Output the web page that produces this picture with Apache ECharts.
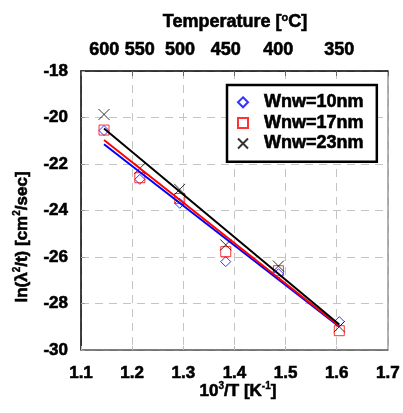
<!DOCTYPE html>
<html>
<head>
<meta charset="utf-8">
<script src="https://cdn.jsdelivr.net/npm/echarts@6/dist/echarts.min.js"></script>
<style>
  html, body { margin: 0; padding: 0; background: #fff; }
  #chart { width: 403px; height: 413px; }
</style>
</head>
<body>
<div id="chart"></div>
<script>
// measured points, x = 1000/T [1/K]
const invT = [1.145, 1.215, 1.293, 1.383, 1.486, 1.605];
const w10 = [-20.56, -22.66, -23.69, -26.2, -26.72, -28.78];
const w17 = [-20.54, -22.59, -23.48, -25.77, -26.59, -29.17];
const w23 = [-19.87, -22.19, -23.09, -25.48, -26.39, -29.0];

// fitted lines, read as end points
const fitX = [1.145, 1.605];
const fit10 = [-21.15, -29.0];
const fit17 = [-20.97, -28.97];
const fit23 = [-20.47, -28.9];

const topTemps = [600, 550, 500, 450, 400, 350];
const topPos = topTemps.map((t) => 1000 / (t + 273.15));

const FONT = "Liberation Sans";
const pair = (xs, ys) => xs.map((x, i) => [x, ys[i]]);
const crossPath = "path://M0,0L10,10M10,0L0,10";
// heavier look, like the original's bold Arial
const heavy = { fontWeight: "bold", fontFamily: FONT, textBorderColor: "#000", textBorderWidth: 0.6 };

const chart = echarts.init(document.getElementById("chart"), null, { renderer: "canvas" });

chart.setOption({
  animation: false,
  textStyle: { fontFamily: FONT },
  grid: { left: 81, right: 14, top: 71, bottom: 63 },
  xAxis: [
    {
      type: "value",
      position: "bottom",
      min: 1.1,
      max: 1.7,
      interval: 0.1,
      axisLine: { onZero: false, lineStyle: { color: "#555", width: 1.5 } },
      axisTick: { inside: true, length: 4, lineStyle: { color: "#bbb" } },
      axisLabel: Object.assign({ margin: 15, color: "#000", fontSize: 17, formatter: (v) => v.toFixed(1) }, heavy),
      splitLine: { show: true, lineStyle: { color: "#c4c4c4", type: [8, 6], width: 1 } },
    },
    {
      type: "value",
      position: "top",
      min: 1.1,
      max: 1.7,
      interval: 0.1,
      axisLine: { onZero: false, lineStyle: { color: "#000", width: 1.5 } },
      axisTick: { inside: true, length: 5, lineStyle: { color: "#666" } },
      axisLabel: Object.assign({
        margin: 12,
        color: "#000",
        fontSize: 18,
        customValues: topPos,
        formatter: (v) => {
          let best = 0;
          topPos.forEach((p, i) => { if (Math.abs(p - v) < Math.abs(topPos[best] - v)) best = i; });
          return String(topTemps[best]);
        },
      }, heavy),
      splitLine: { show: false },
    },
  ],
  yAxis: [
    {
      type: "value",
      position: "left",
      min: -30,
      max: -18,
      interval: 2,
      axisLine: { show: true, onZero: false, lineStyle: { color: "#000", width: 1.5 } },
      axisTick: { show: true, inside: true, length: 4, lineStyle: { color: "#999" } },
      axisLabel: Object.assign({ margin: 13, color: "#000", fontSize: 17 }, heavy),
      splitLine: { show: true, lineStyle: { color: "#c4c4c4", type: [8, 6], width: 1 } },
    },
    {
      type: "value",
      position: "right",
      min: -30,
      max: -18,
      interval: 2,
      axisLine: { show: true, onZero: false, lineStyle: { color: "#999", width: 1.5 } },
      axisTick: { show: false },
      axisLabel: { show: false },
      splitLine: { show: false },
    },
  ],
  legend: {
    orient: "vertical",
    left: 227,
    top: 85,
    padding: [8, 13, 9, 10],
    itemWidth: 10,
    itemHeight: 10,
    itemGap: 2,
    backgroundColor: "#fff",
    borderColor: "#000",
    borderWidth: 2.5,
    borderRadius: 0,
    textStyle: Object.assign({
      fontSize: 18,
      color: "#000",
      lineHeight: 18,
      padding: [0, 0, 0, 11],
    }, heavy),
    data: ["Wnw=10nm", "Wnw=17nm", "Wnw=23nm"],
  },
  series: [
    {
      name: "Wnw=10nm",
      type: "scatter",
      symbol: "diamond",
      symbolSize: 10,
      itemStyle: { color: "rgba(0,0,0,0)", borderColor: "#0000ff", borderWidth: 1 },
      data: pair(invT, w10),
    },
    {
      name: "Wnw=17nm",
      type: "scatter",
      symbol: "rect",
      symbolSize: 10,
      itemStyle: { color: "rgba(0,0,0,0)", borderColor: "#ff0000", borderWidth: 1 },
      data: pair(invT, w17),
    },
    {
      name: "Wnw=23nm",
      type: "scatter",
      symbol: crossPath,
      symbolSize: 11,
      itemStyle: { color: "rgba(0,0,0,0)", borderColor: "#000", borderWidth: 1 },
      data: pair(invT, w23),
    },
    {
      type: "line",
      showSymbol: false,
      lineStyle: { color: "#0000ff", width: 2 },
      data: pair(fitX, fit10),
    },
    {
      type: "line",
      showSymbol: false,
      lineStyle: { color: "#ff0000", width: 2 },
      data: pair(fitX, fit17),
    },
    {
      type: "line",
      showSymbol: false,
      lineStyle: { color: "#000", width: 2 },
      data: pair(fitX, fit23),
    },
  ],
  graphic: [
    {
      type: "text",
      x: 235,
      y: 22,
      style: {
        text: "{a|Temperature [}{s|o}{a|C]}",
        align: "center",
        verticalAlign: "middle",
        rich: {
          a: { fontSize: 18, fontWeight: "bold", fontFamily: FONT, fill: "#000", stroke: "#000", lineWidth: 0.6, lineHeight: 20 },
          s: { fontSize: 11, fontWeight: "bold", fontFamily: FONT, fill: "#000", stroke: "#000", lineWidth: 0.4, verticalAlign: "top", lineHeight: 20, padding: [0, 0, 6, 0] },
        },
      },
    },
    {
      type: "text",
      x: 238,
      y: 391,
      style: {
        text: "{a|10}{s|3}{a|/T [K}{s|-1}{a|]}",
        align: "center",
        verticalAlign: "middle",
        rich: {
          a: { fontSize: 17, fontWeight: "bold", fontFamily: FONT, fill: "#000", stroke: "#000", lineWidth: 0.6, lineHeight: 20 },
          s: { fontSize: 10, fontWeight: "bold", fontFamily: FONT, fill: "#000", stroke: "#000", lineWidth: 0.4, verticalAlign: "top", lineHeight: 20, padding: [0, 0, 6, 0] },
        },
      },
    },
    {
      type: "text",
      x: 22,
      y: 237,
      rotation: Math.PI / 2,
      style: {
        text: "{a|ln(\u03bb}{s|2}{a|/t) [cm}{s|2}{a|/sec]}",
        align: "center",
        verticalAlign: "middle",
        rich: {
          a: { fontSize: 17, fontWeight: "bold", fontFamily: FONT, fill: "#000", stroke: "#000", lineWidth: 0.6, lineHeight: 20 },
          s: { fontSize: 10, fontWeight: "bold", fontFamily: FONT, fill: "#000", stroke: "#000", lineWidth: 0.4, verticalAlign: "top", lineHeight: 20, padding: [0, 0, 6, 0] },
        },
      },
    },
  ],
});
</script>
</body>
</html>
